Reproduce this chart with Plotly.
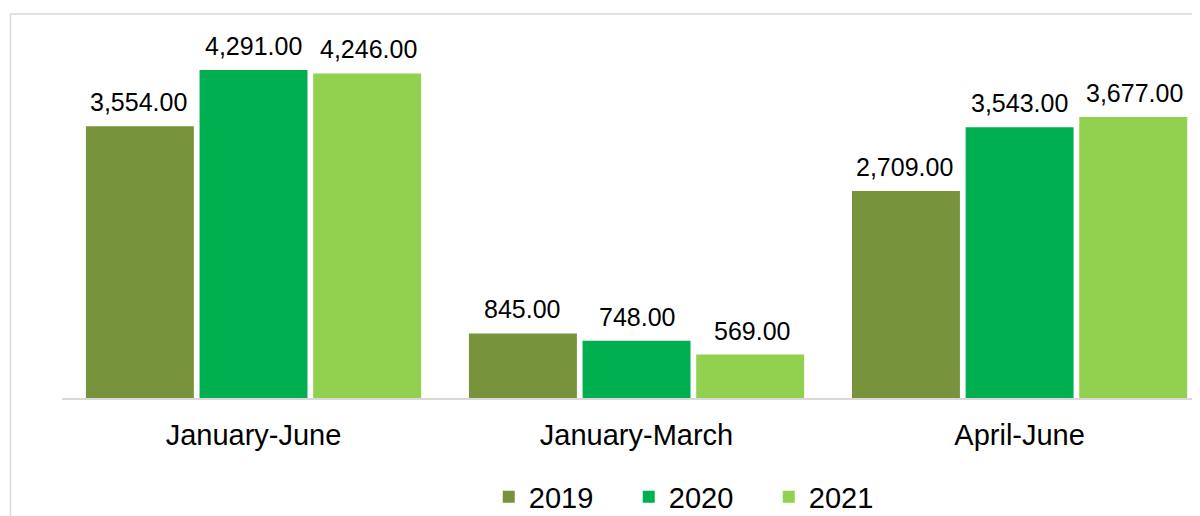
import plotly.graph_objects as go

periods = ["January-June", "January-March", "April-June"]
years = ["2019", "2020", "2021"]
values_2019 = [3554, 845, 2709]
values_2020 = [4291, 748, 3543]
values_2021 = [4246, 569, 3677]
colors = ["#77933C", "#00B050", "#92D050"]

series = [values_2019, values_2020, values_2021]

fig = go.Figure()
for year, vals, col in zip(years, series, colors):
    fig.add_trace(go.Bar(
        x=periods, y=vals, name=year,
        marker=dict(color=col, line=dict(width=0)),
    ))

# value labels above bars (shift by slot within the group)
slot_shift = [-115, 0, 115]
for i, vals in enumerate(series):
    for p, v in zip(periods, vals):
        fig.add_annotation(
            x=p, y=v, xref="x", yref="y",
            text=f"{v:,.2f}", showarrow=False,
            xshift=slot_shift[i], yshift=8, yanchor="bottom",
            font=dict(size=25, color="#000000", family="Liberation Sans, Arial"),
        )

# light grey frame of the chart area (runs off right and bottom edges)
frame = dict(color="#D9D9D9", width=1.5)
fig.add_shape(type="line", xref="paper", yref="paper",
              x0=-0.0453, x1=1.05, y0=1.0159, y1=1.0159, line=frame)
fig.add_shape(type="line", xref="paper", yref="paper",
              x0=-0.0453, x1=-0.0453, y0=1.0159, y1=-0.4, line=frame)

# page body has an 8px margin, so offsets are taken off here
fig.update_layout(
    width=1200, height=516,
    margin=dict(l=54, r=8, t=12, b=126),
    plot_bgcolor="white", paper_bgcolor="white",
    barmode="group", bargap=0.11, bargroupgap=0.05,
    font=dict(family="Liberation Sans, Arial", color="#000000"),
    xaxis=dict(
        range=[-0.5, 2.471], showline=True, linecolor="#D9D9D9", linewidth=1.5,
        ticks="", showgrid=False, tickfont=dict(size=29), ticklabelstandoff=10,
    ),
    yaxis=dict(range=[0, 4945], visible=False),
    legend=dict(
        orientation="h", x=0.375, xanchor="left",
        yref="container", y=0.003, yanchor="bottom",
        font=dict(size=29), entrywidth=95, traceorder="normal",
    ),
)

fig.write_html("out.html")
